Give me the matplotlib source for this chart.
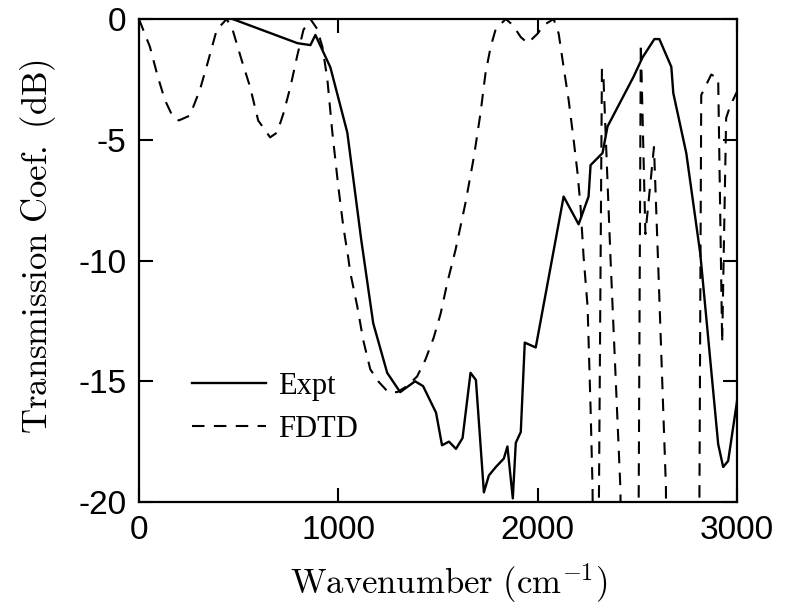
import matplotlib
matplotlib.use("Agg")
import matplotlib.pyplot as plt

# measured transmission (solid)
expt_x = [470, 795, 860, 885, 960, 1045, 1115, 1175, 1245, 1310, 1385, 1425,
          1490, 1520, 1555, 1590, 1623, 1663, 1690, 1730, 1755, 1790, 1830,
          1848, 1875, 1890, 1915, 1935, 1990, 2130, 2205, 2255, 2265, 2325,
          2350, 2480, 2525, 2585, 2610, 2670, 2680, 2745, 2815, 2905, 2930,
          2955, 3000]
expt_y = [0.0, -1.0, -1.08, -0.66, -2.0, -4.7, -9.15, -12.6, -14.65, -15.45,
          -15.0, -15.2, -16.3, -17.65, -17.5, -17.8, -17.35, -14.65, -14.95,
          -19.6, -18.9, -18.55, -18.2, -17.7, -19.85, -17.55, -17.1, -13.4,
          -13.6, -7.35, -8.5, -7.35, -6.05, -5.55, -4.45, -2.4, -1.6, -0.83,
          -0.83, -1.98, -3.07, -5.55, -9.7, -17.6, -18.55, -18.3, -15.8]

# FDTD simulation (dashed)
fdtd_x = [0, 55, 95, 130, 170, 200, 255, 305, 345, 390, 440, 470, 515, 557,
          598, 658, 693, 725, 760, 793, 825, 860, 893, 920, 945, 970, 1000,
          1025, 1050, 1060, 1095, 1125, 1160, 1200, 1250, 1295, 1345, 1395,
          1437, 1478, 1513, 1547, 1588, 1638, 1680, 1713, 1738, 1764, 1790,
          1840, 1875, 1915, 1950, 2000, 2030, 2080, 2105, 2130, 2155, 2180,
          2200, 2215, 2230, 2250, 2265, 2275, 2290, 2322, 2330, 2365, 2415,
          2425, 2495, 2517, 2540, 2583, 2603, 2643, 2655, 2800, 2820, 2870,
          2905, 2925, 2945, 2965, 3000]
fdtd_y = [0.0, -1.15, -2.4, -3.35, -4.05, -4.2, -4.0, -2.95, -1.8, -0.45,
          0.0, -0.45, -1.7, -2.8, -4.2, -4.9, -4.7, -3.9, -2.8, -1.55, -0.45,
          0.0, -0.4, -1.15, -2.5, -4.7, -6.95, -8.6, -9.9, -10.5, -11.9,
          -13.3, -14.5, -15.0, -15.45, -15.45, -15.2, -14.8, -14.1, -13.2,
          -12.2, -10.9, -9.55, -7.6, -5.7, -3.9, -2.25, -1.15, -0.4, 0.0,
          -0.25, -0.75, -1.0, -0.6, -0.25, 0.0, -0.6, -2.0, -3.35, -5.0, -6.4,
          -7.8, -9.85, -11.9, -16.1, -19.4, -40, -2.1, -2.5, -9.9, -19.5, -40,
          -40, -1.0, -8.9, -5.3, -9.9, -19.4, -40, -40, -3.15, -2.3, -2.45,
          -13.4, -4.1, -3.6, -3.0]

x_ticks = [0, 1000, 2000, 3000]
y_ticks = [0, -5, -10, -15, -20]

plt.rcParams["mathtext.fontset"] = "cm"
plt.rcParams["axes.unicode_minus"] = False

fig = plt.figure(figsize=(7.85, 6.06), dpi=100)
ax = fig.add_axes([0.177, 0.1716, 0.762, 0.797])

ax.plot(expt_x, expt_y, color="black", lw=1.7, label="Expt")
ax.plot(fdtd_x, fdtd_y, color="black", lw=1.5, linestyle=(0, (6, 4.5)),
        label="FDTD")

ax.set_xlim(0, 3000)
ax.set_ylim(-20, 0)
ax.set_xticks(x_ticks)
ax.set_yticks(y_ticks)
ax.set_xticklabels([str(v) for v in x_ticks], family="Liberation Sans")
ax.set_yticklabels([str(v) for v in y_ticks], family="Liberation Sans")
ax.tick_params(direction="in", length=10, width=1.5, labelsize=24,
               top=True, right=True)
ax.tick_params(axis="x", pad=9)
ax.tick_params(axis="y", pad=9)
for sp in ax.spines.values():
    sp.set_linewidth(1.6)

ax.set_xlabel(r"$\mathrm{Wavenumber\ (cm^{-1})}$", fontsize=25)
ax.set_ylabel(r"$\mathrm{Transmission\ Coef.\ (dB)}$", fontsize=25)
ax.xaxis.set_label_coords(0.518, -0.122)
ax.yaxis.set_label_coords(-0.135, 0.529)

ax.legend(loc="center left", bbox_to_anchor=(0.089, 0.195), frameon=False,
          prop={"family": "Liberation Serif", "size": 22}, handlelength=2.4,
          handletextpad=0.4, labelspacing=0.45, borderpad=0, borderaxespad=0)

fig.savefig("out.png", dpi=100)
